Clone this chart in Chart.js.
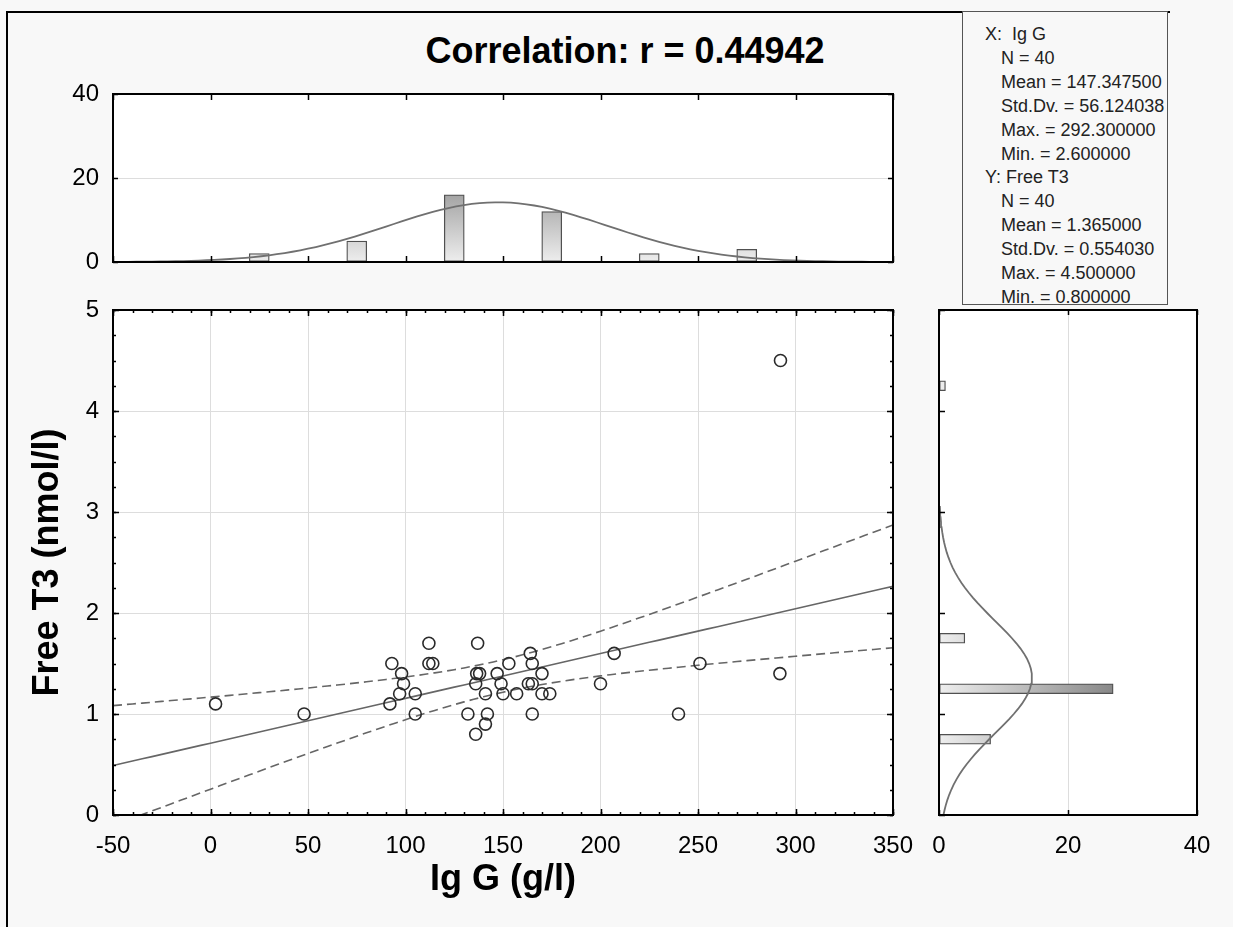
<!DOCTYPE html>
<html>
<head>
<meta charset="utf-8">
<script src="https://cdn.jsdelivr.net/npm/chart.js@4.4.1/dist/chart.umd.min.js"></script>
<style>
  html, body { margin: 0; padding: 0; }
  body { width: 1233px; height: 927px; background: #f8f8f8; position: relative; overflow: hidden;
         font-family: 'Liberation Sans', Arial, sans-serif; }
  canvas { position: absolute; left: 0; top: 0; }
  #frame { position: absolute; left: 6px; top: 11px; width: 1162px; height: 930px;
           border-left: 2px solid #000; border-top: 2px solid #000; }
  #title { position: absolute; left: 0; width: 1250px; top: 29px; text-align: center;
           font-size: 36px; line-height: 44px; font-weight: bold; color: #000; }
  #stats { position: absolute; left: 962px; top: 11px; width: 206px; height: 294px;
           border: 1px solid #555; background: #f8f8f8; overflow: hidden;
           font-size: 18px; line-height: 23.9px; color: #222; padding-top: 11px; box-sizing: border-box; }
  #stats div { white-space: nowrap; padding-left: 38px; }
  #stats div.h { padding-left: 22px; }
</style>
</head>
<body>
<div id="frame"></div>
<div id="title">Correlation: r = 0.44942</div>
<div id="stats">
  <div class="h">X:&nbsp; Ig G</div>
  <div>N = 40</div>
  <div>Mean = 147.347500</div>
  <div>Std.Dv. = 56.124038</div>
  <div>Max. = 292.300000</div>
  <div>Min. = 2.600000</div>
  <div class="h">Y: Free T3</div>
  <div>N = 40</div>
  <div>Mean = 1.365000</div>
  <div>Std.Dv. = 0.554030</div>
  <div>Max. = 4.500000</div>
  <div>Min. = 0.800000</div>
</div>
<canvas id="topHist" width="1233" height="927"></canvas>
<canvas id="scatter" width="1233" height="927"></canvas>
<canvas id="sideHist" width="1233" height="927"></canvas>
<script>
const igG = [2.6, 48, 93, 98, 99, 97, 92, 105, 105, 112, 112, 114, 137, 136.5, 138, 136, 147, 153, 141, 149,
             150, 157, 164, 165, 170, 163, 165, 170, 174, 165, 132, 142, 141, 136, 200, 207, 240, 251, 292.3, 292];
const freeT3 = [1.1, 1.0, 1.5, 1.4, 1.3, 1.2, 1.1, 1.2, 1.0, 1.7, 1.5, 1.5, 1.7, 1.4, 1.4, 1.3, 1.4, 1.5, 1.2, 1.3,
                1.2, 1.2, 1.6, 1.5, 1.4, 1.3, 1.3, 1.2, 1.2, 1.0, 1.0, 1.0, 0.9, 0.8, 1.3, 1.6, 1.0, 1.5, 4.5, 1.4];

// histogram bins
const igGBinMid = [25, 75, 125, 175, 225, 275];
const igGCounts = [2, 5, 16, 12, 2, 3];
const t3BinMid = [0.75, 1.25, 1.75, 4.25];
const t3Counts = [8, 27, 4, 1];

// summary statistics as printed in the box
const nObs = 40;
const xMean = 147.3475, xSd = 56.124038;
const yMean = 1.365, ySd = 0.55403;
const rCorr = 0.44942;
const t95 = 2.0244; // t(0.975, 38)

Chart.defaults.font.family = "'Liberation Sans', Arial, sans-serif";
Chart.defaults.color = '#000';

// fitted line and 95% confidence band
const slope = rCorr * ySd / xSd;
const icpt = yMean - slope * xMean;
const sRes = ySd * Math.sqrt((1 - rCorr * rCorr) * (nObs - 1) / (nObs - 2));
const sxx = (nObs - 1) * xSd * xSd;
const fitLine = [], bandHi = [], bandLo = [];
for (let x = -50; x <= 350; x += 5) {
    const yh = icpt + slope * x;
    const se = sRes * Math.sqrt(1 / nObs + (x - xMean) * (x - xMean) / sxx);
    fitLine.push({x: x, y: yh});
    bandHi.push({x: x, y: yh + t95 * se});
    bandLo.push({x: x, y: yh - t95 * se});
}

// expected normal counts over the histograms
const normal = (v, m, s) => Math.exp(-0.5 * ((v - m) / s) ** 2) / (s * Math.sqrt(2 * Math.PI));
const topCurve = [];
for (let x = -50; x <= 350; x += 4) topCurve.push({x: x, y: nObs * 50 * normal(x, xMean, xSd)});
const sideCurve = [];
for (let y = 0; y <= 5.0001; y += 0.05) sideCurve.push({x: nObs * 0.5 * normal(y, yMean, ySd), y: y});

// white plot area + black frame with inward ticks
const framePlugin = {
    id: 'frameTicks',
    beforeDraw(chart) {
        const {ctx, chartArea: a} = chart;
        ctx.save();
        ctx.fillStyle = '#fff';
        ctx.fillRect(a.left, a.top, a.width, a.height);
        ctx.restore();
    },
    afterDraw(chart, args, opts) {
        const {ctx, chartArea: a, scales} = chart;
        ctx.save();
        ctx.strokeStyle = '#000';
        ctx.lineWidth = 1.5;
        (opts.marks || []).forEach(m => {
            const s = scales[m.axis];
            for (let v = m.from; v <= m.to + 1e-9; v += m.step) {
                const p = Math.round(s.getPixelForValue(v)) + 0.5;
                ctx.beginPath();
                if (m.axis === 'x') {
                    if (m.sides.includes('bottom')) { ctx.moveTo(p, a.bottom); ctx.lineTo(p, a.bottom - m.len); }
                    if (m.sides.includes('top')) { ctx.moveTo(p, a.top); ctx.lineTo(p, a.top + m.len); }
                } else {
                    if (m.sides.includes('left')) { ctx.moveTo(a.left, p); ctx.lineTo(a.left + m.len, p); }
                    if (m.sides.includes('right')) { ctx.moveTo(a.right, p); ctx.lineTo(a.right - m.len, p); }
                }
                ctx.stroke();
            }
        });
        ctx.lineWidth = 2;
        ctx.strokeRect(a.left, a.top, a.width, a.height);
        ctx.restore();
    }
};

const tickFont = {size: 24};
const titleFont = {size: 36, weight: 'bold'};
const gridColor = '#dddddd';

// --- main scatter ---
new Chart(document.getElementById('scatter'), {
    type: 'scatter',
    data: {
        datasets: [
            {
                data: igG.map((v, i) => ({x: v, y: freeT3[i]})),
                pointRadius: 6, pointBorderWidth: 1.6,
                pointBorderColor: '#2a2a2a', pointBackgroundColor: 'rgba(0,0,0,0)'
            },
            {type: 'line', data: fitLine, borderColor: '#666', borderWidth: 1.6, pointRadius: 0},
            {type: 'line', data: bandHi, borderColor: '#666', borderWidth: 1.6, borderDash: [9, 5], pointRadius: 0},
            {type: 'line', data: bandLo, borderColor: '#666', borderWidth: 1.6, borderDash: [9, 5], pointRadius: 0}
        ]
    },
    options: {
        responsive: false,
        animation: false,
        layout: {padding: {left: 13, top: 310, right: 340, bottom: 12}},
        plugins: {
            legend: {display: false},
            tooltip: {enabled: false},
            frameTicks: {
                marks: [
                    {axis: 'x', from: -50, to: 350, step: 10, len: 3, sides: ['top', 'bottom']},
                    {axis: 'x', from: -50, to: 350, step: 50, len: 6, sides: ['top', 'bottom']},
                    {axis: 'y', from: 0, to: 5, step: 0.25, len: 3, sides: ['left', 'right']},
                    {axis: 'y', from: 0, to: 5, step: 1, len: 6, sides: ['left', 'right']}
                ]
            }
        },
        scales: {
            x: {
                type: 'linear', min: -50, max: 350,
                ticks: {stepSize: 50, padding: 17, font: tickFont, color: '#000'},
                grid: {color: gridColor, drawTicks: false},
                border: {display: false},
                title: {display: true, text: 'Ig G (g/l)', font: titleFont, color: '#000', padding: {top: 0, bottom: 13}},
                afterFit: s => { s.height = 100; }
            },
            y: {
                type: 'linear', min: 0, max: 5,
                ticks: {stepSize: 1, padding: 14, font: tickFont, color: '#000'},
                grid: {color: gridColor, drawTicks: false},
                border: {display: false},
                title: {display: true, text: 'Free T3 (nmol/l)', font: titleFont, color: '#000', padding: {top: 13, bottom: 0}},
                afterFit: s => { s.width = 100; }
            }
        }
    },
    plugins: [framePlugin]
});

// --- histogram of Ig G (top) ---
new Chart(document.getElementById('topHist'), {
    type: 'bar',
    data: {
        datasets: [
            {type: 'line', data: topCurve, borderColor: '#707070', borderWidth: 1.8, pointRadius: 0},
            {
                type: 'bar',
                data: igGBinMid.map((v, i) => ({x: v, y: igGCounts[i]})),
                barThickness: 20,
                borderColor: '#505050', borderWidth: 1.3, borderSkipped: false,
                backgroundColor: c => {
                    const {chart} = c;
                    if (!chart.chartArea) return '#ccc';
                    const y = chart.scales.y;
                    const g = chart.ctx.createLinearGradient(0, y.getPixelForValue(0), 0, y.getPixelForValue(16));
                    g.addColorStop(0, '#eeeeee');
                    g.addColorStop(1, '#a4a4a4');
                    return g;
                }
            }
        ]
    },
    options: {
        responsive: false,
        animation: false,
        layout: {padding: {left: 13, top: 94, right: 340, bottom: 665}},
        plugins: {
            legend: {display: false},
            tooltip: {enabled: false},
            frameTicks: {
                marks: [
                    {axis: 'x', from: -50, to: 350, step: 50, len: 6, sides: ['top', 'bottom']},
                    {axis: 'y', from: 0, to: 40, step: 20, len: 5, sides: ['left', 'right']}
                ]
            }
        },
        scales: {
            x: {type: 'linear', min: -50, max: 350, offset: false, display: false, grid: {offset: false}},
            y: {
                type: 'linear', min: 0, max: 40,
                ticks: {stepSize: 20, padding: 14, font: tickFont, color: '#000'},
                grid: {color: gridColor, drawTicks: false},
                border: {display: false},
                afterFit: s => { s.width = 100; }
            }
        }
    },
    plugins: [framePlugin]
});

// --- histogram of Free T3 (right side) ---
new Chart(document.getElementById('sideHist'), {
    type: 'bar',
    data: {
        datasets: [
            {type: 'line', indexAxis: 'y', data: sideCurve, borderColor: '#707070', borderWidth: 1.8, pointRadius: 0},
            {
                type: 'bar',
                data: t3BinMid.map((v, i) => ({x: t3Counts[i], y: v})),
                barThickness: 10,
                borderColor: '#505050', borderWidth: 1.3, borderSkipped: false,
                backgroundColor: c => {
                    const {chart} = c;
                    if (!chart.chartArea) return '#ccc';
                    const x = chart.scales.x;
                    const g = chart.ctx.createLinearGradient(x.getPixelForValue(0), 0, x.getPixelForValue(27), 0);
                    g.addColorStop(0, '#eeeeee');
                    g.addColorStop(1, '#888888');
                    return g;
                }
            }
        ]
    },
    options: {
        indexAxis: 'y',
        responsive: false,
        animation: false,
        layout: {padding: {left: 939, top: 310, right: 36, bottom: 12}},
        plugins: {
            legend: {display: false},
            tooltip: {enabled: false},
            frameTicks: {
                marks: [
                    {axis: 'x', from: 0, to: 40, step: 20, len: 5, sides: ['top', 'bottom']},
                    {axis: 'y', from: 0, to: 5, step: 1, len: 6, sides: ['left']}
                ]
            }
        },
        scales: {
            x: {
                type: 'linear', min: 0, max: 40,
                ticks: {stepSize: 20, padding: 17, font: tickFont, color: '#000'},
                grid: {color: gridColor, drawTicks: false},
                border: {display: false},
                afterFit: s => { s.height = 100; }
            },
            y: {type: 'linear', min: 0, max: 5, offset: false, display: false, grid: {offset: false}}
        }
    },
    plugins: [framePlugin]
});
</script>
</body>
</html>
